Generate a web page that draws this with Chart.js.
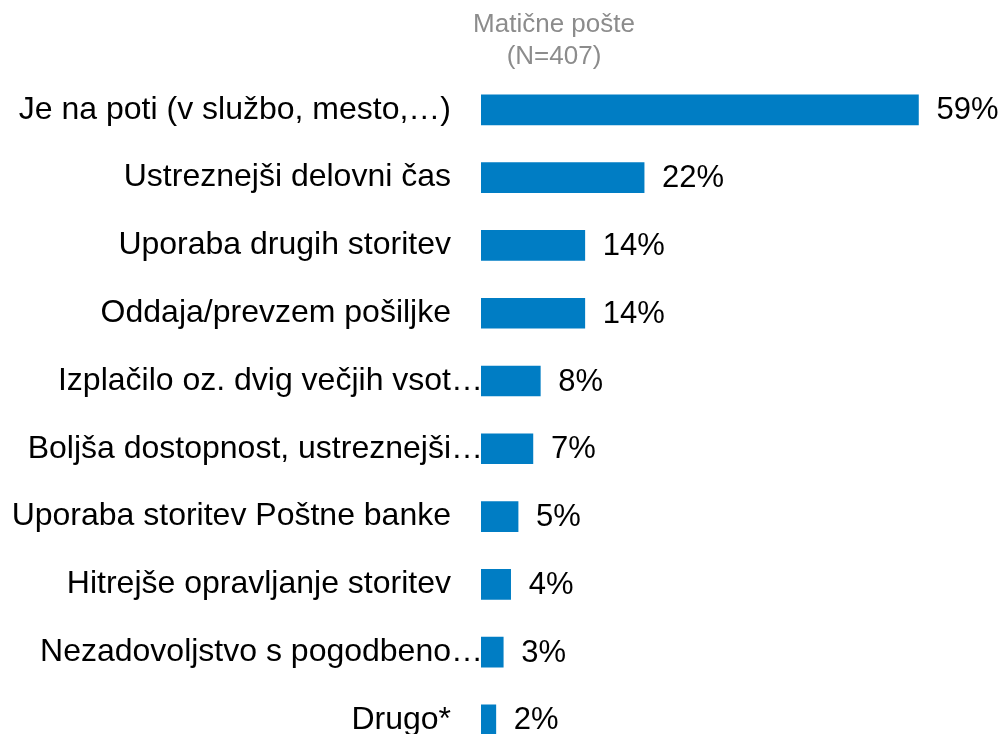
<!DOCTYPE html>
<html>
<head>
<meta charset="utf-8">
<script src="https://cdn.jsdelivr.net/npm/chart.js@4.4.1/dist/chart.umd.min.js"></script>
<style>
  html, body { margin: 0; padding: 0; background: #fff; overflow: hidden; }
</style>
</head>
<body>
<canvas id="chart" width="1005" height="803"></canvas>
<script>
const categories = [
    'Je na poti (v službo, mesto,…)',
    'Ustreznejši delovni čas',
    'Uporaba drugih storitev',
    'Oddaja/prevzem pošiljke',
    'Izplačilo oz. dvig večjih vsot…',
    'Boljša dostopnost, ustreznejši…',
    'Uporaba storitev Poštne banke',
    'Hitrejše opravljanje storitev',
    'Nezadovoljstvo s pogodbeno…',
    'Drugo*'
];
const shares = [59, 22, 14, 14, 8, 7, 5, 4, 3, 2];
const headerLines = ['Matične pošte', '(N=407)'];

const FONT = "'Liberation Sans', Arial, sans-serif";
const LABEL_SIZE = 32;

// cut-off labels: text is right aligned without the ellipsis, which hangs past it
const isCut = (s) => s.endsWith('…') && !s.endsWith('…)');

// header text above the bars
const headerPlugin = {
    id: 'header',
    afterDraw(chart) {
        const ctx = chart.ctx;
        ctx.save();
        ctx.fillStyle = '#8c8c8c';
        ctx.font = '26px ' + FONT;
        ctx.textAlign = 'center';
        ctx.textBaseline = 'middle';
        const x = chart.chartArea.left + 73;
        headerLines.forEach((line, i) => ctx.fillText(line, x, 25 + i * 32));
        ctx.restore();
    }
};

// trailing ellipsis of the cut-off category labels
const ellipsisPlugin = {
    id: 'ellipsis',
    beforeDatasetsDraw(chart) {
        const ctx = chart.ctx;
        const y = chart.scales.y;
        ctx.save();
        ctx.fillStyle = '#000';
        ctx.font = LABEL_SIZE + 'px ' + FONT;
        ctx.textAlign = 'left';
        ctx.textBaseline = 'middle';
        categories.forEach((c, i) => {
            if (isCut(c)) ctx.fillText('…', y.right - 30, y.getPixelForTick(i));
        });
        ctx.restore();
    }
};

// percentage next to each bar
const valueLabels = {
    id: 'valueLabels',
    afterDatasetsDraw(chart) {
        const ctx = chart.ctx;
        const meta = chart.getDatasetMeta(0);
        ctx.save();
        ctx.fillStyle = '#000';
        ctx.font = '31px ' + FONT;
        ctx.textAlign = 'left';
        ctx.textBaseline = 'middle';
        meta.data.forEach((bar, i) => {
            ctx.fillText(shares[i] + '%', bar.x + 18, bar.y + 1);
        });
        ctx.restore();
    }
};

new Chart(document.getElementById('chart'), {
    type: 'bar',
    data: {
        labels: categories,
        datasets: [{
            data: shares,
            backgroundColor: '#007dc4',
            barThickness: 30
        }]
    },
    options: {
        indexAxis: 'y',
        responsive: false,
        animation: false,
        layout: { padding: { top: 76, bottom: 7, right: 5, left: 0 } },
        plugins: {
            legend: { display: false },
            tooltip: { enabled: false }
        },
        scales: {
            x: { display: false, min: 0, max: 70 },
            y: {
                grid: { display: false, drawTicks: false },
                border: { display: false },
                ticks: {
                    color: '#000',
                    padding: 30,
                    autoSkip: false,
                    font: { family: FONT, size: LABEL_SIZE },
                    callback(value, i) {
                        const c = categories[i];
                        return isCut(c) ? c.slice(0, -1) : c;
                    }
                },
                afterFit(axis) { axis.width = 481; }
            }
        }
    },
    plugins: [headerPlugin, ellipsisPlugin, valueLabels]
});
</script>
</body>
</html>
